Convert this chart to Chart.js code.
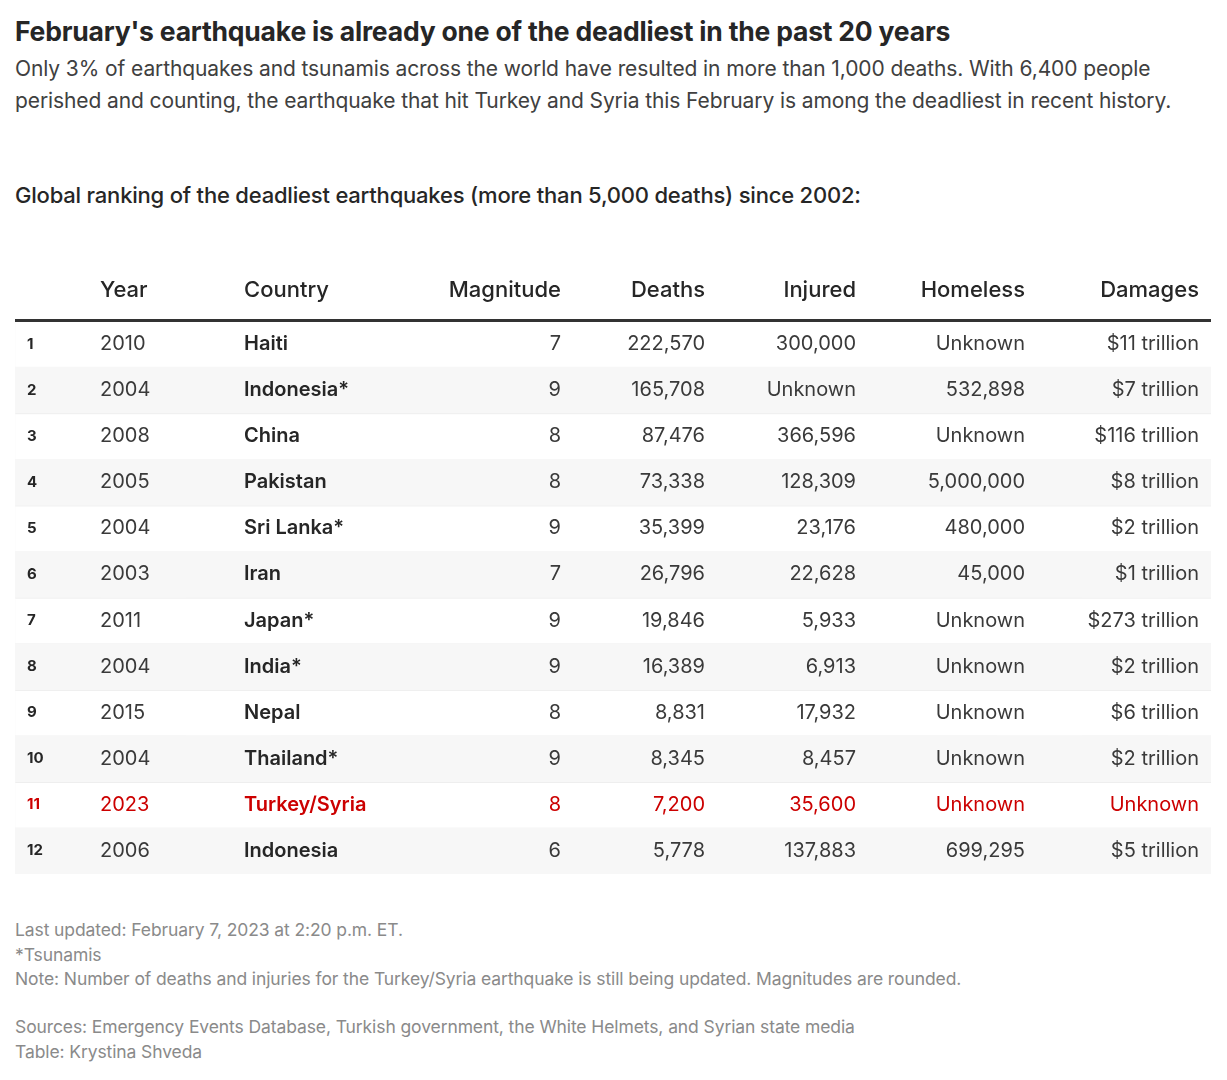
<!DOCTYPE html>
<html>
<head>
<meta charset="utf-8">
<script src="https://cdn.jsdelivr.net/npm/chart.js@4"></script>
<style>
  body { margin: 0; background: #fff; font-family: Inter, "Noto Sans", sans-serif; color: #262626; }
  h1 { position: absolute; left: 15px; top: 15px; margin: 0; font-size: 26.5px; font-weight: 700; letter-spacing: -0.2px; white-space: nowrap; }
  .sub { position: absolute; left: 15px; top: 53px; width: 1200px; font-size: 21px; line-height: 32px; color: #404040; letter-spacing: -0.1px; }
  .lead { position: absolute; left: 15px; top: 182px; font-size: 22px; font-weight: 500; letter-spacing: -0.2px; white-space: nowrap; }
  #wrap { position: absolute; left: 0; top: 265px; width: 1227px; height: 609px; }
  .foot { position: absolute; left: 15px; font-size: 17.5px; color: #8a8a8a; line-height: 24.5px; letter-spacing: -0.1px; }
</style>
</head>
<body>
<h1>February's earthquake is already one of the deadliest in the past 20 years</h1>
<div class="sub">Only 3% of earthquakes and tsunamis across the world have resulted in more than 1,000 deaths. With 6,400 people perished and counting, the earthquake that hit Turkey and Syria this February is among the deadliest in recent history.</div>
<div class="lead">Global ranking of the deadliest earthquakes (more than 5,000 deaths) since 2002:</div>
<div id="wrap"><canvas id="table"></canvas></div>
<div class="foot" style="top:918px">Last updated: February 7, 2023 at 2:20 p.m. ET.<br>*Tsunamis<br>Note: Number of deaths and injuries for the Turkey/Syria earthquake is still being updated. Magnitudes are rounded.</div>
<div class="foot" style="top:1015px">Sources: Emergency Events Database, Turkish government, the White Helmets, and Syrian state media<br>Table: Krystina Shveda</div>
<script>
// table data
const headers = ["", "Year", "Country", "Magnitude", "Deaths", "Injured", "Homeless", "Damages"];
const ranks = ["1","2","3","4","5","6","7","8","9","10","11","12"];
const years = ["2010","2004","2008","2005","2004","2003","2011","2004","2015","2004","2023","2006"];
const countries = ["Haiti","Indonesia*","China","Pakistan","Sri Lanka*","Iran","Japan*","India*","Nepal","Thailand*","Turkey/Syria","Indonesia"];
const magnitudes = ["7","9","8","8","9","7","9","9","8","9","8","6"];
const deaths = ["222,570","165,708","87,476","73,338","35,399","26,796","19,846","16,389","8,831","8,345","7,200","5,778"];
const injured = ["300,000","Unknown","366,596","128,309","23,176","22,628","5,933","6,913","17,932","8,457","35,600","137,883"];
const homeless = ["Unknown","532,898","Unknown","5,000,000","480,000","45,000","Unknown","Unknown","Unknown","Unknown","Unknown","699,295"];
const damages = ["$11 trillion","$7 trillion","$116 trillion","$8 trillion","$2 trillion","$1 trillion","$273 trillion","$2 trillion","$6 trillion","$2 trillion","Unknown","$5 trillion"];
const highlightRow = 10;

const columns = [ranks, years, countries, magnitudes, deaths, injured, homeless, damages];
// column anchor (px from left of chart area) and alignment
const colX = [12, 85, 229, 546, 690, 841, 1010, 1184];
const colAlign = ["left","left","left","right","right","right","right","right"];

const tablePlugin = {
  id: "tableText",
  beforeDatasetsDraw(chart) {
    const { ctx, chartArea: a, scales: { y } } = chart;
    ctx.save();
    // row separators
    ctx.strokeStyle = "#e6e6e6";
    ctx.lineWidth = 1;
    ranks.forEach((r, i) => {
      const yb = y.getPixelForValue(i) + 23;
      ctx.beginPath(); ctx.moveTo(a.left, yb + 0.5); ctx.lineTo(a.right, yb + 0.5); ctx.stroke();
    });
    ctx.restore();
  },
  afterDatasetsDraw(chart) {
    const { ctx, chartArea: a, scales: { y } } = chart;
    ctx.save();
    ctx.textBaseline = "middle";
    // header
    ctx.fillStyle = "#262626";
    ctx.font = "500 22px Inter, 'Noto Sans', sans-serif";
    headers.forEach((h, c) => {
      ctx.textAlign = colAlign[c];
      ctx.fillText(h, a.left + colX[c], a.top - 31);
    });
    ctx.fillStyle = "#333";
    ctx.fillRect(a.left, a.top - 2, a.right - a.left, 3);
    // cells
    columns.forEach((col, c) => {
      col.forEach((v, i) => {
        const yp = y.getPixelForValue(i);
        ctx.fillStyle = i === highlightRow ? "#cc0000" : (c === 2 || c === 0 ? "#262626" : "#3a3a3a");
        if (c === 0) ctx.font = "700 15px Inter, 'Noto Sans', sans-serif";
        else if (c === 2) ctx.font = "600 20px Inter, 'Noto Sans', sans-serif";
        else ctx.font = "400 20px Inter, 'Noto Sans', sans-serif";
        ctx.textAlign = colAlign[c];
        ctx.fillText(v, a.left + colX[c], yp);
      });
    });
    ctx.restore();
  }
};

new Chart(document.getElementById("table"), {
  type: "bar",
  data: {
    labels: ranks,
    datasets: [{
      data: ranks.map((r, i) => i % 2 === 1 ? 1 : 0),
      backgroundColor: "#f7f7f7",
      barPercentage: 1,
      categoryPercentage: 1
    }]
  },
  options: {
    indexAxis: "y",
    responsive: true,
    maintainAspectRatio: false,
    animation: false,
    layout: { padding: { left: 15, right: 16, top: 56, bottom: 0 } },
    plugins: { legend: { display: false }, tooltip: { enabled: false } },
    scales: {
      x: { min: 0, max: 1, display: false },
      y: { display: false }
    }
  },
  plugins: [tablePlugin]
});
</script>
</body>
</html>
